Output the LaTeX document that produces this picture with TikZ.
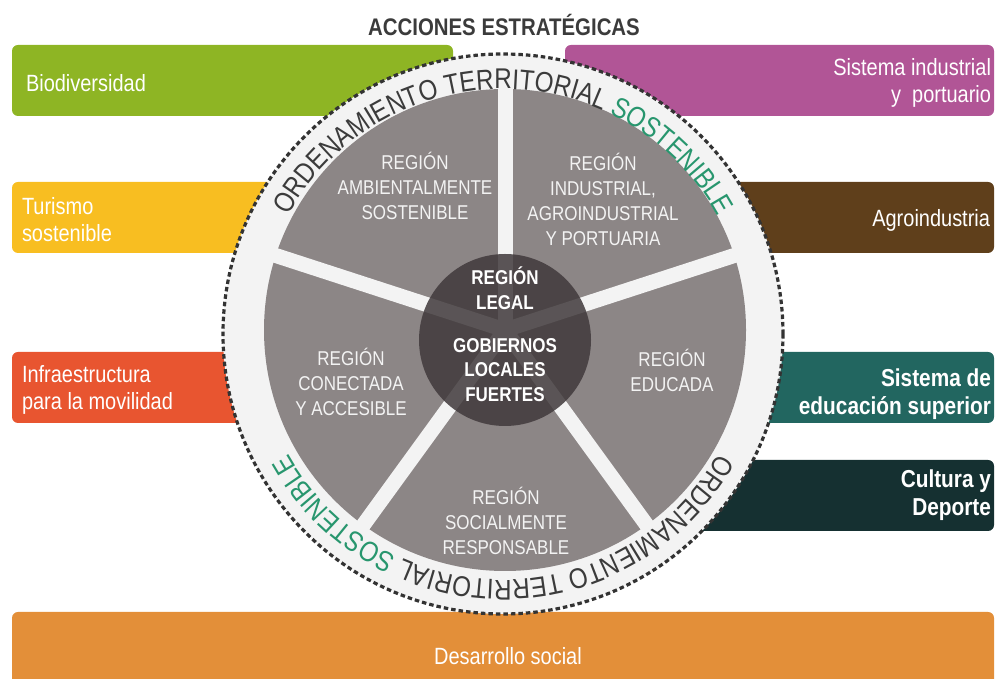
\documentclass[tikz,border=0pt]{standalone}
\usepackage{fontspec}
\setmainfont[FakeStretch=0.85]{Liberation Sans}
\usetikzlibrary{decorations.text}
\definecolor{c8eb524}{RGB}{142,181,36}
\definecolor{cb15596}{RGB}{177,85,150}
\definecolor{cf8be21}{RGB}{248,190,33}
\definecolor{c5f3f1b}{RGB}{95,63,27}
\definecolor{ce85530}{RGB}{232,85,48}
\definecolor{c226660}{RGB}{34,102,96}
\definecolor{c153031}{RGB}{21,48,49}
\definecolor{ce38f39}{RGB}{227,143,57}
\definecolor{cf3f3f3}{RGB}{243,243,243}
\definecolor{c8c8686}{RGB}{140,134,134}
\definecolor{c403a3b}{RGB}{64,57,59}
\definecolor{c333333}{RGB}{51,51,51}
\definecolor{c3b3b3b}{RGB}{59,59,59}
\definecolor{c28966e}{RGB}{40,150,110}
\newcommand\ordfont{\fontsize{28.5}{30}\selectfont}

\begin{document}
\begin{tikzpicture}[x=1pt,y=1pt,inner sep=0pt,outer sep=0pt,
  boxtxt/.style={text=white,font=\fontsize{23.5}{27}\selectfont},
  boxbold/.style={text=white,font=\bfseries\fontsize{24.5}{28}\selectfont},
  segtxt/.style={text=cf3f3f3,align=center,font=\fontsize{20}{25}\selectfont},
  hubtxt/.style={text=white,align=center,font=\bfseries\fontsize{20}{24.5}\selectfont}]
  \useasboundingbox (0,0) rectangle (996,679);
  \path[fill=c8eb524,rounded corners=6pt] (12,563) rectangle (453,634);
  \path[fill=cb15596,rounded corners=6pt] (565,563) rectangle (994,634);
  \path[fill=cf8be21,rounded corners=6pt] (12,426) rectangle (400,497);
  \path[fill=c5f3f1b,rounded corners=6pt] (620,426) rectangle (994,497);
  \path[fill=ce85530,rounded corners=6pt] (12,256) rectangle (400,327);
  \path[fill=c226660,rounded corners=6pt] (620,256) rectangle (994,327);
  \path[fill=c153031,rounded corners=6pt] (620,148) rectangle (994,219);
  \path[fill=ce38f39,rounded corners=6pt] (12,-20) rectangle (994,67);
  \path[draw=c333333,fill=cf3f3f3,line width=3.2pt,dash pattern=on 4.5pt off 3pt]
    (503,345) circle (280);
  \path[fill=c8c8686] (505,349) circle (241);
  \path[draw=cf3f3f3,line width=15pt] (505,349) -- ++(90:250);
  \path[draw=cf3f3f3,line width=15pt] (505,349) -- ++(18:250);
  \path[draw=cf3f3f3,line width=15pt] (505,349) -- ++(-54:250);
  \path[draw=cf3f3f3,line width=15pt] (505,349) -- ++(-126:250);
  \path[draw=cf3f3f3,line width=15pt] (505,349) -- ++(162:250);
  \path[fill=c403a3b,fill opacity=0.85] (505,339) circle (86);
  \path[decorate,decoration={text along path,text align=center,
    text={|\ordfont\color{c3b3b3b}|ORDENAMIENTO TERRITORIAL |\ordfont\color{c28966e}|SOSTENIBLE}}]
    ([shift={(160:245)}]503,345) arc[start angle=160,end angle=20,radius=245];
  \path[decorate,decoration={text along path,text align=center,
    text={|\ordfont\color{c3b3b3b}|ORDENAMIENTO TERRITORIAL |\ordfont\color{c28966e}|SOSTENIBLE}}]
    ([shift={(-20:246)}]503,345) arc[start angle=-20,end angle=-160,radius=246];
  \node[anchor=base,text=c3b3b3b,font=\bfseries\fontsize{24}{24}\selectfont] (acciones)
    at (504,643) {ACCIONES ESTRATÉGICAS};
  \node[segtxt] (ambiental) at (415,493) {REGIÓN\\AMBIENTALMENTE\\SOSTENIBLE};
  \node[segtxt] (industrial) at (603,480) {REGIÓN\\INDUSTRIAL,\\AGROINDUSTRIAL\\Y PORTUARIA};
  \node[segtxt] (educada) at (672,309) {REGIÓN\\EDUCADA};
  \node[segtxt] (conectada) at (351,297) {REGIÓN\\CONECTADA\\Y ACCESIBLE};
  \node[segtxt] (social) at (506,158) {REGIÓN\\SOCIALMENTE\\RESPONSABLE};
  \node[hubtxt] (legal) at (505,391) {REGIÓN\\LEGAL};
  \node[hubtxt] (gobiernos) at (505,309) {GOBIERNOS\\LOCALES\\FUERTES};
  \node[boxtxt,anchor=base west] (biodiversidad) at (26,587) {Biodiversidad};
  \node[boxtxt,anchor=east,align=right] (sisindustrial) at (991,596) {Sistema industrial\\y\ \ portuario};
  \node[boxtxt,anchor=west,align=left] (turismo) at (22,459) {Turismo\\sostenible};
  \node[boxtxt,anchor=base east] (agroindustria) at (990,452) {Agroindustria};
  \node[boxtxt,anchor=west,align=left] (infraestructura) at (22,289) {Infraestructura\\para la movilidad};
  \node[boxbold,anchor=east,align=right] (educacion) at (991,285) {Sistema de\\educación superior};
  \node[boxbold,anchor=east,align=right] (cultura) at (991,184) {Cultura y\\Deporte};
  \node[boxtxt,anchor=base] (desarrollo) at (508,14) {Desarrollo social};
\end{tikzpicture}
\end{document}
